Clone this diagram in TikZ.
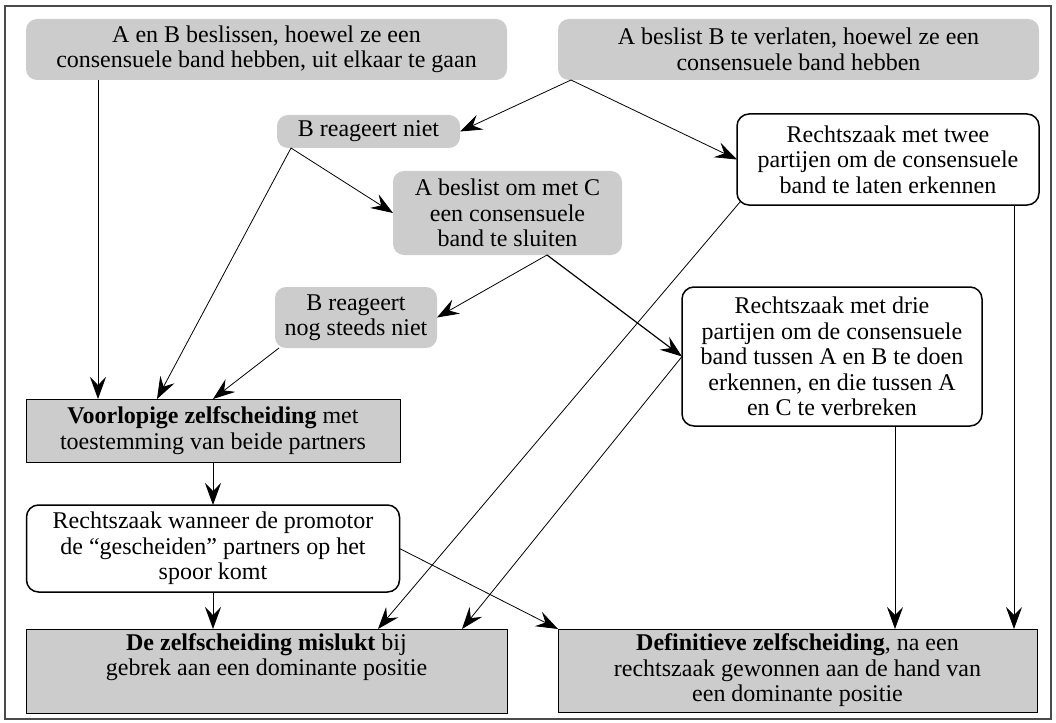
\documentclass[tikz,border=0pt]{standalone}
\usepackage{fontspec}
\setmainfont{Liberation Serif}
\usetikzlibrary{arrows.meta}
\definecolor{boxgray}{HTML}{CCCCCC}
\definecolor{framegray}{HTML}{4A4A4A}
\begin{document}
\begin{tikzpicture}[x=1pt,y=-1pt,
  every node/.style={inner sep=0pt,outer sep=0pt,align=center,
    font=\fontsize{24}{25.5}\selectfont},
  graybox/.style={fill=boxgray,rounded corners=11pt},
  whitebox/.style={fill=white,draw=black,line width=1.5pt,rounded corners=12pt},
  resultbox/.style={fill=boxgray,draw=black,line width=0.9pt},
  arr/.style={draw=black,line width=0.8pt,-{Stealth[length=22pt,width=16pt,inset=8pt]}}]
\useasboundingbox (0,0) rectangle (1056,722);
\draw[framegray,line width=1.5pt] (5,6) rectangle (1051,719);

\node[graybox,minimum width=481,minimum height=61] (n1) at (266.5,49.5)
  {A en B beslissen, hoewel ze een\\consensuele band hebben, uit elkaar te gaan};
\node[graybox,minimum width=481,minimum height=61] (n2) at (798.5,49.5)
  {A beslist B te verlaten, hoewel ze een\\consensuele band hebben};
\node[graybox,minimum width=183,minimum height=33] (niet) at (368.5,131.5)
  {B reageert niet};
\node[whitebox,minimum width=302,minimum height=91] (twee) at (888,159.5)
  {Rechtszaak met twee\\partijen om de consensuele\\band te laten erkennen};
\node[graybox,minimum width=229,minimum height=84] (abeslist) at (507.5,213)
  {A beslist om met C\\een consensuele\\band te sluiten};
\node[graybox,minimum width=162,minimum height=61] (nogsteeds) at (356,317.5)
  {B reageert\\nog steeds niet};
\node[whitebox,minimum width=300,minimum height=139] (drie) at (832,356.5)
  {Rechtszaak met drie\\partijen om de consensuele\\band tussen A en B te doen\\erkennen, en die tussen A\\en C te verbreken};
\node[resultbox,minimum width=374,minimum height=63] (voorl) at (213,430.5)
  {\textbf{Voorlopige zelfscheiding} met\\toestemming van beide partners};
\node[whitebox,minimum width=373,minimum height=87] (wanneer) at (213,548.5)
  {Rechtszaak wanneer de promotor\\de ``gescheiden'' partners op het\\spoor komt};
\node[resultbox,minimum width=481,minimum height=84] (mislukt) at (266.5,671)
  {\textbf{De zelfscheiding mislukt} bij\\gebrek aan een dominante positie\\\strut};
\node[resultbox,minimum width=479,minimum height=83] (defin) at (797.5,670.5)
  {\textbf{Definitieve zelfscheiding}, na een\\rechtszaak gewonnen aan de hand van\\een dominante positie};

\draw[arr] ([xshift=-168.5pt]n1.south) -- ([xshift=-115pt]voorl.north);
\draw[arr] ([xshift=-227.5pt]n2.south) -- (niet.east);
\draw[arr] ([xshift=-227.5pt]n2.south) -- (twee.west);
\draw[arr] ([xshift=-77.5pt]niet.south) -- ([xshift=-56pt]voorl.north);
\draw[arr] ([xshift=-77.5pt]niet.south) -- (abeslist.west);
\draw[arr] ([xshift=39.5pt]abeslist.south) -- (nogsteeds.east);
\draw[arr,line width=1.2pt] ([xshift=39.5pt]abeslist.south) -- (drie.west);
\draw[arr] ([xshift=-77pt]nogsteeds.south) -- (voorl.north);
\draw[arr] (voorl.south) -- (wanneer.north);
\draw[arr] (wanneer.south) -- ([xshift=-53.5pt]mislukt.north);
\draw[arr] (wanneer.east) -- (defin.north west);
\draw[arr] ([shift={(3pt,3pt)}]twee.south west) -- ([xshift=111.5pt]mislukt.north);
\draw[arr] (drie.west) -- ([xshift=195.5pt]mislukt.north);
\draw[arr] ([xshift=63pt]drie.south) -- ([xshift=97.5pt]defin.north);
\draw[arr] ([xshift=126pt]twee.south) -- ([xshift=216.5pt]defin.north);
\end{tikzpicture}
\end{document}
